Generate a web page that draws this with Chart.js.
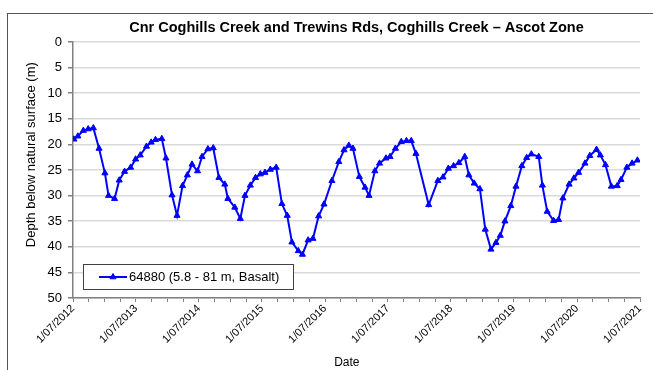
<!DOCTYPE html>
<html>
<head>
<meta charset="utf-8">
<script src="https://cdn.jsdelivr.net/npm/chart.js@4.4.1/dist/chart.umd.min.js"></script>
<style>
  html, body { margin: 0; padding: 0; background: #ffffff; }
  #wrap { width: 653px; height: 370px; position: relative; }
</style>
</head>
<body>
<div id="wrap"><canvas id="c" width="653" height="370"></canvas></div>
<script>
// ---- Data ----
const chartTitle = "Cnr Coghills Creek and Trewins Rds, Coghills Creek \u2013 Ascot Zone";
const seriesLabel = "64880 (5.8 - 81 m, Basalt)";
const yAxisTitle = "Depth below natural surface (m)";
const xAxisTitle = "Date";

const sampleDates = [
  "2012-07-06","2012-07-29","2012-08-30","2012-09-27","2012-10-27","2012-11-29",
  "2013-01-02","2013-01-23","2013-02-27","2013-03-26","2013-04-26","2013-05-31",
  "2013-06-29","2013-07-26","2013-08-31","2013-09-27","2013-10-22","2013-11-28",
  "2013-12-22","2014-01-26","2014-02-24","2014-03-28","2014-04-25","2014-05-22",
  "2014-06-23","2014-07-19","2014-08-22","2014-09-22","2014-10-25","2014-11-28",
  "2014-12-16","2015-01-25","2015-02-26","2015-03-25","2015-04-25","2015-05-25",
  "2015-06-22","2015-07-19","2015-08-19","2015-09-22","2015-10-25","2015-11-25",
  "2015-12-22","2016-01-28","2016-02-21","2016-03-25","2016-04-22","2016-05-25",
  "2016-06-25","2016-08-10","2016-09-19","2016-10-19","2016-11-16","2016-12-10",
  "2017-01-16","2017-02-18","2017-03-13","2017-04-16","2017-05-13","2017-06-19",
  "2017-07-13","2017-08-13","2017-09-16","2017-10-16","2017-11-13","2017-12-10",
  "2018-02-22","2018-04-16","2018-05-16","2018-06-16","2018-07-16","2018-08-16",
  "2018-09-19","2018-10-13","2018-11-13","2018-12-16","2019-01-16","2019-02-18",
  "2019-03-19","2019-04-13","2019-05-10","2019-06-13","2019-07-13","2019-08-16",
  "2019-09-13","2019-10-10","2019-11-22","2019-12-13","2020-01-10","2020-02-16",
  "2020-03-16","2020-04-10","2020-05-16","2020-06-13","2020-07-10","2020-08-16",
  "2020-09-13","2020-10-22","2020-11-13","2020-12-13","2021-01-16","2021-02-19",
  "2021-03-13","2021-04-16","2021-05-16","2021-06-16"
];

const depthValues = [
  19.0,18.4,17.3,17.0,16.8,20.8,
  25.6,30.0,30.6,27.0,25.3,24.5,
  22.9,22.1,20.4,19.6,19.1,18.9,
  22.7,29.9,33.9,28.1,26.0,23.9,
  25.2,22.4,20.9,20.7,26.5,27.8,
  30.6,32.3,34.5,30.0,28.0,26.5,
  25.8,25.5,24.9,24.5,31.6,33.9,
  39.1,40.8,41.5,38.7,38.4,34.0,
  31.7,27.1,23.4,21.1,20.2,20.8,
  26.3,28.4,30.0,25.2,23.7,22.7,
  22.4,20.8,19.5,19.3,19.3,21.8,
  31.8,27.1,26.4,24.7,24.2,23.6,
  22.4,26.0,27.6,28.7,36.6,40.5,
  39.2,37.8,35.0,32.0,28.2,24.2,
  22.6,21.9,22.4,28.0,33.1,34.9,
  34.7,30.5,27.8,26.6,25.5,23.7,
  22.2,21.0,22.1,24.0,28.2,28.1,
  26.9,24.5,23.7,23.1
];

const tickYears = [2012,2013,2014,2015,2016,2017,2018,2019,2020,2021];
const yTickMin = 0, yTickMax = 50, yTickStep = 5;

// ---- Build ----
const toMs = s => { const p = s.split("-").map(Number); return Date.UTC(p[0], p[1]-1, p[2]); };
const points = sampleDates.map((d, i) => ({ x: toMs(d), y: depthValues[i] }));
const xMin = Date.UTC(tickYears[0], 6, 1);
const xMax = Date.UTC(tickYears[tickYears.length-1], 6, 1);

const FONT = "'Liberation Sans', Arial, sans-serif";
const BLUE = "#0000ff";

const framePlugin = {
  id: 'frame',
  beforeDraw(chart) {
    const ctx = chart.ctx;
    ctx.save();
    ctx.fillStyle = '#ffffff';
    ctx.fillRect(0, 0, chart.width, chart.height);
    ctx.strokeStyle = '#555555';
    ctx.lineWidth = 1;
    ctx.strokeRect(7.5, 13.5, chart.width + 20, chart.height + 20);
    ctx.restore();
  }
};

const textPlugin = {
  id: 'texts',
  afterDraw(chart) {
    const ctx = chart.ctx;
    const a = chart.chartArea;
    const cx = (a.left + a.right) / 2;
    // chart title
    ctx.save();
    ctx.fillStyle = '#000000';
    ctx.textAlign = 'center';
    ctx.textBaseline = 'middle';
    ctx.font = "bold 14.5px " + FONT;
    ctx.fillText(chartTitle, cx, a.top - 14);
    ctx.restore();
    // y axis title
    ctx.save();
    ctx.fillStyle = '#000000';
    ctx.textAlign = 'center';
    ctx.textBaseline = 'middle';
    ctx.font = "13px " + FONT;
    ctx.translate(31, a.top + (a.bottom - a.top) * 0.44);
    ctx.rotate(-Math.PI / 2);
    ctx.fillText(yAxisTitle, 0, 0);
    ctx.restore();
    // x axis title
    ctx.save();
    ctx.fillStyle = '#000000';
    ctx.textAlign = 'center';
    ctx.textBaseline = 'middle';
    ctx.font = "12px " + FONT;
    ctx.fillText(xAxisTitle, a.left + (a.right - a.left) * 0.483, chart.height - 7);
    ctx.restore();
  }
};

const legendPlugin = {
  id: 'boxLegend',
  afterDraw(chart) {
    const ctx = chart.ctx;
    const a = chart.chartArea;
    const ds = chart.data.datasets[0];
    const x0 = a.left + 10, y1 = a.bottom - 9;
    const w = 210, h = 25;
    const y0 = y1 - h;
    ctx.save();
    ctx.fillStyle = '#ffffff';
    ctx.fillRect(x0, y0, w, h);
    ctx.strokeStyle = '#404040';
    ctx.lineWidth = 1;
    ctx.strokeRect(Math.round(x0) + 0.5, Math.round(y0) + 0.5, w, h);
    const cy = y0 + h / 2 + 0.5;
    ctx.strokeStyle = ds.borderColor;
    ctx.lineWidth = ds.borderWidth;
    ctx.beginPath();
    ctx.moveTo(x0 + 16, cy);
    ctx.lineTo(x0 + 44, cy);
    ctx.stroke();
    ctx.fillStyle = ds.pointBackgroundColor;
    ctx.strokeStyle = ds.pointBorderColor;
    ctx.lineWidth = 1;
    Chart.helpers.drawPoint(ctx, { pointStyle: 'triangle', radius: ds.pointRadius, rotation: 0, borderWidth: 1 }, x0 + 30, cy);
    ctx.fillStyle = '#000000';
    ctx.font = "13px " + FONT;
    ctx.textBaseline = 'middle';
    ctx.textAlign = 'left';
    ctx.fillText(ds.label, x0 + 46, cy);
    ctx.restore();
  }
};

new Chart(document.getElementById('c'), {
  type: 'line',
  data: {
    datasets: [{
      label: seriesLabel,
      data: points,
      borderColor: BLUE,
      borderWidth: 2,
      backgroundColor: BLUE,
      pointBackgroundColor: BLUE,
      pointBorderColor: BLUE,
      pointBorderWidth: 1,
      pointStyle: 'triangle',
      pointRadius: 3.5,
      tension: 0,
      fill: false
    }]
  },
  options: {
    responsive: false,
    animation: false,
    layout: { padding: { left: 0, right: 13, top: 42, bottom: 0 } },
    plugins: {
      legend: { display: false },
      tooltip: { enabled: false },
      title: { display: false }
    },
    scales: {
      x: {
        type: 'linear',
        min: xMin,
        max: xMax,
        afterFit(scale) { scale.height = 72; },
        afterBuildTicks(scale) {
          const t = [];
          tickYears.forEach((yr, i) => {
            t.push({ value: Date.UTC(yr, 6, 1), major: true });
            if (i < tickYears.length - 1) {
              t.push({ value: Date.UTC(yr, 9, 1) });
              t.push({ value: Date.UTC(yr + 1, 0, 1) });
              t.push({ value: Date.UTC(yr + 1, 3, 1) });
            }
          });
          scale.ticks = t;
        },
        ticks: {
          autoSkip: false,
          maxRotation: 45,
          minRotation: 45,
          padding: 0,
          color: '#000000',
          font: { family: FONT, size: 11 },
          callback(value) {
            const d = new Date(value);
            if (d.getUTCMonth() === 6 && d.getUTCDate() === 1) return "1/07/" + d.getUTCFullYear();
            return "";
          }
        },
        grid: {
          drawOnChartArea: false,
          drawTicks: true,
          tickLength: 4,
          tickColor: '#808080',
          color: '#808080'
        },
        border: { display: true, color: '#808080', width: 1.5 },
        title: { display: false }
      },
      y: {
        type: 'linear',
        reverse: true,
        min: yTickMin,
        max: yTickMax,
        afterFit(scale) { scale.width = 73; },
        ticks: {
          stepSize: yTickStep,
          padding: 6,
          color: '#000000',
          font: { family: FONT, size: 13 }
        },
        grid: {
          color: '#dadada',
          lineWidth: 1.5,
          tickLength: 5,
          tickColor: '#808080'
        },
        border: { display: true, color: '#808080', width: 1.5 },
        title: { display: false }
      }
    }
  },
  plugins: [framePlugin, textPlugin, legendPlugin]
});
</script>
</body>
</html>
